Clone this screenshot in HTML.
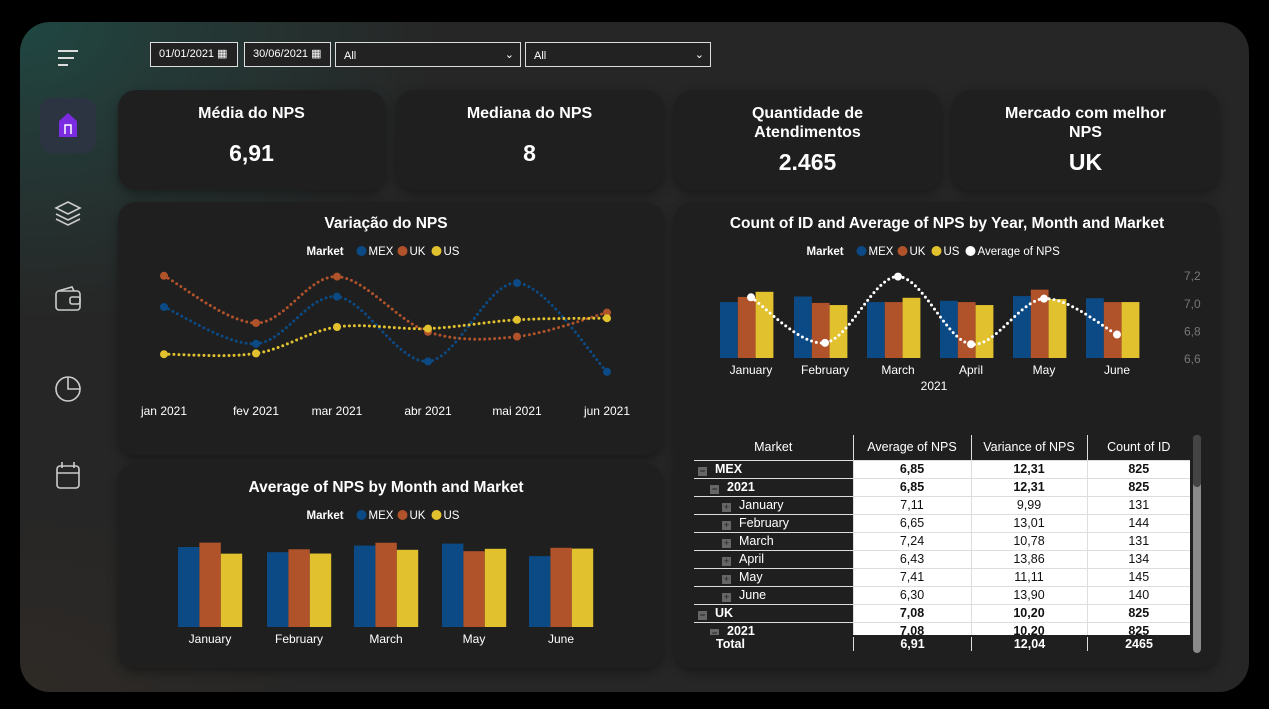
<!DOCTYPE html>
<html><head><meta charset="utf-8">
<style>
*{box-sizing:border-box;margin:0;padding:0}
body{width:1269px;height:709px;background:#000;font-family:"Liberation Sans",sans-serif;color:#fff;overflow:hidden;position:relative}
.main{position:absolute;left:20px;top:22px;width:1229px;height:670px;border-radius:30px;background:radial-gradient(ellipse 420px 300px at 0% 0%,#1f4742 0%,#243a37 35%,rgba(38,38,38,0) 100%),radial-gradient(ellipse 300px 200px at 0% 100%,#2e2a26 0%,rgba(38,38,38,0) 100%),#262626;overflow:hidden}
.card{position:absolute;background:#1f1f1f;border-radius:18px;box-shadow:0 4px 10px rgba(0,0,0,.35)}
.kpi-t{position:absolute;width:100%;text-align:center;font-size:16px;font-weight:bold;line-height:19px}
.kpi-v{position:absolute;width:100%;text-align:center;font-size:23px;font-weight:bold}
.filt{position:absolute;top:42px;height:25px;border:1px solid #ddd;font-size:11px;line-height:23px;padding-left:8px;background:#222}
svg text{font-family:"Liberation Sans",sans-serif}
table{border-collapse:collapse;font-size:12.5px}
</style></head><body>
<div class="main"></div>

<svg style="position:absolute;left:0;top:0" width="110" height="709">
 <g stroke="#ddd" stroke-width="2"><line x1="58" y1="51" x2="78" y2="51"/><line x1="58" y1="58" x2="74" y2="58"/><line x1="58" y1="65" x2="68" y2="65"/></g>
 <rect x="40" y="98" width="56" height="55" rx="12" fill="#2b3440"/>
 <path d="M59 137 V121 L68 113 L77 121 V137 Z" fill="#7b2be0"/><path d="M65 134 V125 H71 V134" stroke="#fff" stroke-width="1.5" fill="none"/>
 <g fill="none" stroke="#ccc" stroke-width="1.6"><path d="M56 208 L68 202 L80 208 L68 214 Z"/><path d="M56 214 L68 220 L80 214"/><path d="M56 219 L68 225 L80 219"/></g>
 <g fill="none" stroke="#ccc" stroke-width="1.6"><rect x="56" y="291" width="24" height="19" rx="3"/><path d="M58 291 L72 287 L74 291"/><rect x="70" y="297" width="10" height="7" rx="2"/></g>
 <g fill="none" stroke="#ccc" stroke-width="1.6"><circle cx="68" cy="389" r="12"/><path d="M68 377 V389 H80"/></g>
 <g fill="none" stroke="#ccc" stroke-width="1.6"><rect x="57" y="466" width="22" height="22" rx="3"/><line x1="57" y1="473" x2="79" y2="473"/><line x1="62" y1="462" x2="62" y2="468"/><line x1="74" y1="462" x2="74" y2="468"/></g>
</svg>

<div class="filt" style="left:150px;width:88px">01/01/2021 <span style="font-size:11px">▦</span></div>
<div class="filt" style="left:244px;width:87px">30/06/2021 <span>▦</span></div>
<div class="filt" style="left:335px;width:186px;line-height:26px">All<span style="position:absolute;right:6px;top:-1px">⌄</span></div>
<div class="filt" style="left:525px;width:186px;line-height:26px">All<span style="position:absolute;right:6px;top:-1px">⌄</span></div>

<div class="card" style="left:118px;top:90px;width:267px;height:100px"><div class="kpi-t" style="top:14px">Média do NPS</div><div class="kpi-v" style="top:50px">6,91</div></div>
<div class="card" style="left:396px;top:90px;width:267px;height:100px"><div class="kpi-t" style="top:14px">Mediana do NPS</div><div class="kpi-v" style="top:50px">8</div></div>
<div class="card" style="left:674px;top:90px;width:267px;height:100px"><div class="kpi-t" style="top:14px">Quantidade de<br>Atendimentos</div><div class="kpi-v" style="top:59px">2.465</div></div>
<div class="card" style="left:952px;top:90px;width:267px;height:100px"><div class="kpi-t" style="top:14px">Mercado com melhor<br>NPS</div><div class="kpi-v" style="top:59px">UK</div></div>

<div class="card" style="left:118px;top:202px;width:545px;height:253px"></div>
<div class="card" style="left:118px;top:463px;width:545px;height:205px"></div>
<div class="card" style="left:674px;top:202px;width:545px;height:466px"></div>

<svg id="charts" style="position:absolute;left:0;top:0" width="1269" height="709"></svg>

<div style="position:absolute;left:694px;top:435px;width:496px;height:218px;overflow:hidden;background:#1f1f1f">
<table id="tbl" style="width:496px"></table>
</div>
<div style="position:absolute;left:694px;top:635px;width:496px;height:18px;background:#1f1f1f;border-top:1px solid #1f1f1f;font-size:12.5px;font-weight:bold">
 <span style="position:absolute;left:22px;top:1px">Total</span>
 <span style="position:absolute;left:159px;width:118px;text-align:center;top:1px;border-left:1px solid #ddd">6,91</span>
 <span style="position:absolute;left:277px;width:116px;text-align:center;top:1px;border-left:1px solid #ddd">12,04</span>
 <span style="position:absolute;left:393px;width:103px;text-align:center;top:1px;border-left:1px solid #ddd">2465</span>
</div>
<div style="position:absolute;left:1193px;top:435px;width:8px;height:218px;border-radius:4px;background:#8a8a8a"><div style="width:8px;height:52px;border-radius:4px;background:#444"></div></div>

<script>
const NS="http://www.w3.org/2000/svg";
const svg=document.getElementById('charts');
function el(t,a,p){const e=document.createElementNS(NS,t);for(const k in a)e.setAttribute(k,a[k]);(p||svg).appendChild(e);return e;}
function txt(x,y,s,o){o=o||{};const e=el('text',{x:x,y:y,fill:o.fill||'#fff','font-size':o.size||12,'text-anchor':o.anchor||'middle','font-weight':o.weight||'normal'});e.textContent=s;return e;}
function smooth(pts){let d='M'+pts[0][0]+' '+pts[0][1];for(let i=0;i<pts.length-1;i++){const p0=pts[i-1]||pts[i],p1=pts[i],p2=pts[i+1],p3=pts[i+2]||p2;const c1=[p1[0]+(p2[0]-p0[0])/6,p1[1]+(p2[1]-p0[1])/6],c2=[p2[0]-(p3[0]-p1[0])/6,p2[1]-(p3[1]-p1[1])/6];d+=` C${c1[0]} ${c1[1]} ${c2[0]} ${c2[1]} ${p2[0]} ${p2[1]}`;}return d;}
const COLORS={MEX:'#0b4a85',UK:'#b0522a',US:'#e2c12f'};

const lineMonths=['jan 2021','fev 2021','mar 2021','abr 2021','mai 2021','jun 2021'];
const lineMEX=[7.11,6.65,7.24,6.43,7.41,6.30];
const lineUK=[7.50,6.91,7.49,6.80,6.74,7.04];
const lineUS=[6.52,6.53,6.86,6.84,6.95,6.97];
const barMonths=['January','February','March','May','June'];
const barMEX=[7.11,6.65,7.24,7.41,6.30];
const barUK=[7.50,6.91,7.49,6.74,7.04];
const barUS=[6.52,6.53,6.86,6.95,6.97];
const comboMonths=['January','February','March','April','May','June'];
const countMEX=[131,144,131,134,145,140];
const countUK=[143,129,131,131,160,131];
const countUS=[155,124,141,124,138,131];
const avgNPS=[7.04,6.71,7.19,6.70,7.03,6.77];
const avgTicks=[6.6,6.8,7.0,7.2];
const tableHeader=['Market','Average of NPS','Variance of NPS','Count of ID'];
const tableRows=[
 [0,'MEX','6,85','12,31','825',1],[1,'2021','6,85','12,31','825',1],
 [2,'January','7,11','9,99','131',0],[2,'February','6,65','13,01','144',0],[2,'March','7,24','10,78','131',0],
 [2,'April','6,43','13,86','134',0],[2,'May','7,41','11,11','145',0],[2,'June','6,30','13,90','140',0],
 [0,'UK','7,08','10,20','825',1],[1,'2021','7,08','10,20','825',1]];

function legend(cx,y,items){
  const widths=items.map(s=>s.length*7+20);
  const w=50+widths.reduce((a,b)=>a+b,0);
  let x=cx-w/2;
  const t=txt(x,y,'Market',{anchor:'start',weight:'bold',size:11.5});
  
  
  x+=50;
  items.forEach((s,i)=>{const c=el('circle',{cx:x+5,cy:y-4,r:5,fill:COLORS[s]||'#fff'});
    
    
    txt(x+12,y,s,{anchor:'start',size:11.5});x+=widths[i];});
}

txt(386,228,'Variação do NPS',{size:15.5,weight:'bold'});
legend(386,255,['MEX','UK','US']);
const lxs=[164,256,337,428,517,607];
const ly=v=>307-(v-7.11)*80;
[['MEX',lineMEX],['UK',lineUK],['US',lineUS]].forEach(([m,arr])=>{
  const pts=arr.map((v,i)=>[lxs[i],ly(v)]);
  const p=el('path',{d:smooth(pts),fill:'none',stroke:COLORS[m],'stroke-width':3,'stroke-dasharray':'0 5','stroke-linecap':'round'});
  
  
  pts.forEach((q,i)=>{const c=el('circle',{cx:q[0],cy:q[1],r:4,fill:COLORS[m]});
    
    });
});
lineMonths.forEach((s,i)=>txt(lxs[i],415,s,{size:12}));

txt(386,492,'Average of NPS by Month and Market',{size:15.5,weight:'bold'});
legend(386,519,['MEX','UK','US']);
const bcx=[210,299,386,474,561];
const bh=v=>v*11.25;
barMonths.forEach((m,i)=>{
  [['MEX',barMEX],['UK',barUK],['US',barUS]].forEach(([k,arr],j)=>{
    const h=bh(arr[i]);
    const r=el('rect',{x:bcx[i]-32+j*21.4,y:627-h,width:21.4,height:h,fill:COLORS[k]});
    
    
  });
  txt(bcx[i],643,m,{size:12});
});

txt(947,228,'Count of ID and Average of NPS by Year, Month and Market',{size:15.5,weight:'bold'});
legend(945,255,['MEX','UK','US','Average of NPS']);
const ccx=[747,821,894,967,1040,1113];
const ch=c=>c*0.427;
const ay=v=>358-(v-6.6)*138;
comboMonths.forEach((m,i)=>{
  [['MEX',countMEX],['UK',countUK],['US',countUS]].forEach(([k,arr],j)=>{
    const h=ch(arr[i]);
    const r=el('rect',{x:ccx[i]-27+j*17.8,y:358-h,width:17.8,height:h,fill:COLORS[k]});
    
    
  });
  txt(ccx[i]+4,374,m,{size:12});
});
avgTicks.forEach(t=>txt(1184,ay(t)+5,t.toFixed(1).replace('.',','),{size:12,fill:'#777',anchor:'start'}));
txt(934,390,'2021',{size:12});
const apts=avgNPS.map((v,i)=>[ccx[i]+4,ay(v)]);
const ap=el('path',{d:smooth(apts),fill:'none',stroke:'#fff','stroke-width':3,'stroke-dasharray':'0 5','stroke-linecap':'round'});


apts.forEach((q,i)=>{const c=el('circle',{cx:q[0],cy:q[1],r:4,fill:'#fff'});
  
  });

const tbl=document.getElementById('tbl');
const hr=document.createElement('tr');


const cw=[159,118,116,103];
tableHeader.forEach((h,i)=>{const th=document.createElement('th');th.textContent=h;th.style.cssText=`width:${cw[i]}px;height:25px;font-weight:normal;text-align:center;border-left:${i?'1px solid #ddd':'none'};border-bottom:1px solid #ddd;background:#1f1f1f`;hr.appendChild(th);});
tbl.appendChild(hr);
tableRows.forEach(r=>{
  const tr=document.createElement('tr');
  
  
  const fw=r[5]?'bold':'normal';
  const td0=document.createElement('td');
  td0.style.cssText=`height:18px;padding-left:${4+r[0]*12}px;border-bottom:1px solid #ddd;font-weight:${fw};white-space:nowrap`;
  td0.innerHTML=`<span style="display:inline-block;width:9px;height:9px;background:#666;margin-right:8px;vertical-align:-1px;color:#222;font-size:9px;line-height:9px;text-align:center">${r[0]<2?'−':'+'}</span>${r[1]}`;
  tr.appendChild(td0);
  [2,3,4].forEach(k=>{const td=document.createElement('td');td.textContent=r[k];td.style.cssText=`background:#fff;color:#111;text-align:center;border-left:1px solid #ddd;border-bottom:1px solid #ddd;font-weight:${fw}`;tr.appendChild(td);});
  tbl.appendChild(tr);
});
</script>
</body></html>
